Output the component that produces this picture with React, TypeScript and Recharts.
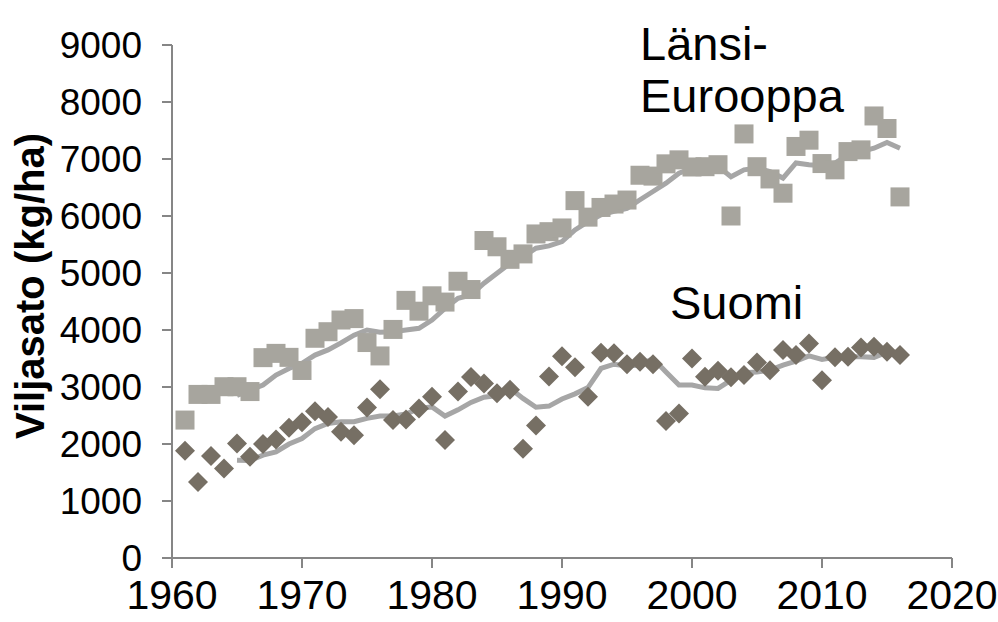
import React from "react";
import {
  ComposedChart,
  Scatter,
  Line,
  XAxis,
  YAxis,
} from "recharts";

// Viljasato 1961–2016, kg/ha
const years = [
  1961, 1962, 1963, 1964, 1965, 1966, 1967, 1968, 1969, 1970,
  1971, 1972, 1973, 1974, 1975, 1976, 1977, 1978, 1979, 1980,
  1981, 1982, 1983, 1984, 1985, 1986, 1987, 1988, 1989, 1990,
  1991, 1992, 1993, 1994, 1995, 1996, 1997, 1998, 1999, 2000,
  2001, 2002, 2003, 2004, 2005, 2006, 2007, 2008, 2009, 2010,
  2011, 2012, 2013, 2014, 2015, 2016,
];

const lansiEurooppa = [
  2420, 2870, 2870, 3005, 3005, 2920, 3515, 3590, 3520, 3290,
  3855, 3970, 4175, 4200, 3780, 3545, 4010, 4520, 4330, 4600,
  4490, 4855, 4710, 5570, 5460, 5240, 5335, 5685, 5725, 5790,
  6270, 5980, 6150, 6210, 6280, 6715, 6700, 6915, 6985, 6860,
  6865, 6900, 6000, 7440, 6865, 6650, 6400, 7220, 7330, 6920,
  6810, 7130, 7160, 7755, 7535, 6335,
];

const suomi = [
  1880, 1335, 1790, 1570, 2010, 1775, 2000, 2080, 2285, 2380,
  2575, 2475, 2215, 2155, 2640, 2960, 2420, 2430, 2625, 2830,
  2070, 2920, 3175, 3060, 2890, 2950, 1915, 2325, 3185, 3540,
  3345, 2830, 3600, 3590, 3400, 3445, 3400, 2405, 2535, 3500,
  3180, 3285, 3170, 3210, 3430, 3295, 3650, 3560, 3765, 3120,
  3520, 3530, 3695, 3705, 3620, 3560,
];

// 5 vuoden liukuva keskiarvo (alkaa 1965)
const lansiKeskiarvo = [
  null, null, null, null, 2850, 2945, 3035, 3210, 3325, 3415,
  3560, 3650, 3775, 3910, 4000, 3960, 3970, 4000, 4030, 4175,
  4380, 4555, 4615, 4820, 4995, 5170, 5285, 5435, 5475, 5550,
  5755, 5900, 6020, 6080, 6135, 6285, 6430, 6575, 6750, 6840,
  6860, 6870, 6690, 6810, 6840, 6780, 6665, 6930, 6900, 6880,
  6930, 7075, 7130, 7190, 7290, 7190,
];

const suomiKeskiarvo = [
  null, null, null, null, 1715, 1710, 1805, 1860, 2000, 2095,
  2270, 2360, 2390, 2390, 2450, 2490, 2490, 2525, 2625, 2650,
  2490, 2600, 2730, 2820, 2850, 2980, 2800, 2645, 2665, 2790,
  2880, 2990, 3325, 3400, 3370, 3385, 3500, 3265, 3035, 3035,
  2985, 2975, 3120, 3250, 3265, 3295, 3385, 3455, 3545, 3485,
  3520, 3530, 3530, 3520, 3610, 3610,
];

const xTicks = [1960, 1970, 1980, 1990, 2000, 2010, 2020];
const yTicks = [0, 1000, 2000, 3000, 4000, 5000, 6000, 7000, 8000, 9000];

const rows = years.map((year, i) => ({
  year,
  lansi: lansiEurooppa[i],
  suomi: suomi[i],
  lansiMA: lansiKeskiarvo[i],
  suomiMA: suomiKeskiarvo[i],
}));

const FONT = "'Liberation Sans', Arial, sans-serif";
const AXIS = "#868686";
const LIGHT = "#a7a59e";
const DARK = "#766f64";
const TREND = "#a6a6a6";

function SquareMark(props: any) {
  const { cx, cy } = props;
  if (cx == null || cy == null) return null;
  return <rect x={cx - 9.5} y={cy - 9.5} width={19} height={19} fill={LIGHT} />;
}

function DiamondMark(props: any) {
  const { cx, cy } = props;
  if (cx == null || cy == null) return null;
  const r = 10;
  return (
    <polygon
      points={`${cx},${cy - r} ${cx + r},${cy} ${cx},${cy + r} ${cx - r},${cy}`}
      fill={DARK}
    />
  );
}

export default function App() {
  return (
    <div style={{ position: "relative", width: 998, height: 622, background: "#fff" }}>
      <style>{"body{margin:0}"}</style>
      <ComposedChart
        width={998}
        height={622}
        data={rows}
        margin={{ top: 45, right: 46, bottom: 0, left: 0 }}
      >
        <XAxis
          dataKey="year"
          type="number"
          domain={[1960, 2020]}
          ticks={xTicks}
          height={64}
          tickSize={10}
          tickMargin={12}
          stroke={AXIS}
          strokeWidth={2}
          tick={{ fill: "#000", fontSize: 41, fontFamily: FONT }}
        />
        <YAxis
          type="number"
          domain={[0, 9000]}
          ticks={yTicks}
          width={172}
          tickSize={10}
          tickMargin={20}
          stroke={AXIS}
          strokeWidth={2}
          tick={{ fill: "#000", fontSize: 37, fontFamily: FONT }}
        />
        <Scatter dataKey="lansi" shape={SquareMark} isAnimationActive={false} />
        <Scatter dataKey="suomi" shape={DiamondMark} isAnimationActive={false} />
        <Line
          dataKey="lansiMA"
          stroke={TREND}
          strokeWidth={5}
          dot={false}
          activeDot={false}
          isAnimationActive={false}
        />
        <Line
          dataKey="suomiMA"
          stroke={TREND}
          strokeWidth={5}
          dot={false}
          activeDot={false}
          isAnimationActive={false}
        />
      </ComposedChart>
      <svg
        width={998}
        height={622}
        style={{ position: "absolute", left: 0, top: 0, pointerEvents: "none" }}
        fontFamily={FONT}
      >
        <text
          transform="translate(44,286) rotate(-90)"
          textAnchor="middle"
          fontSize={40}
          fontWeight="bold"
          fill="#000"
        >
          Viljasato (kg/ha)
        </text>
        <text x={640} y={60} fontSize={47} fill="#000">Länsi-</text>
        <text x={640} y={112} fontSize={47} fill="#000">Eurooppa</text>
        <text x={670} y={319} fontSize={47} fill="#000">Suomi</text>
      </svg>
    </div>
  );
}
